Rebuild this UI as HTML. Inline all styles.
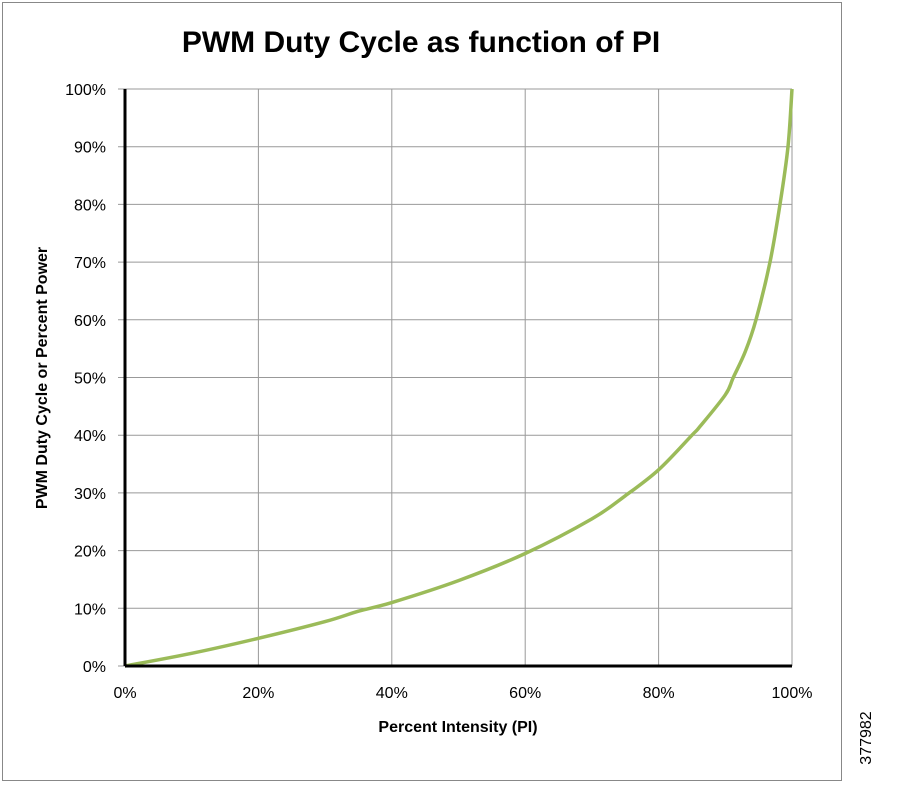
<!DOCTYPE html>
<html><head><meta charset="utf-8"><style>
body{margin:0;background:#fff;width:901px;height:792px;overflow:hidden;font-family:"Liberation Sans",sans-serif}
</style></head><body>
<svg width="901" height="792" xmlns="http://www.w3.org/2000/svg">
<rect x="2.5" y="2.5" width="839" height="778" fill="#fff" stroke="#888" stroke-width="1"/>
<text x="421" y="52" text-anchor="middle" font-size="30" font-weight="bold" fill="#000">PWM Duty Cycle as function of PI</text>
<g id="grid"></g>
<g id="ticks"></g>
<path id="curve" fill="none" stroke="#9bbb59" stroke-width="3.5"/>
<line x1="125" y1="89" x2="125" y2="666" stroke="#000" stroke-width="3"/>
<line x1="125" y1="666" x2="792" y2="666" stroke="#000" stroke-width="3"/>
<text x="458" y="732" text-anchor="middle" font-size="16" font-weight="bold">Percent Intensity (PI)</text>
<text transform="translate(47,378) rotate(-90)" text-anchor="middle" font-size="16" font-weight="bold">PWM Duty Cycle or Percent Power</text>
<text transform="translate(871,738) rotate(-90)" text-anchor="middle" font-size="16">377982</text>
</svg>
<script>
const xTicks=[0,20,40,60,80,100];
const yTicks=[0,10,20,30,40,50,60,70,80,90,100];
const piValues=[0,10,20,30,35,40,50,60,70,75,80,85,86.2,90,91.2,93,94.6,96.7,98.2,99.4,100];
const dutyValues=[0,2.2,4.8,7.7,9.5,11,14.8,19.5,25.5,29.5,34,40,41.5,47,50,54.5,60,70,80,90,100];
const X=v=>125+v/100*667, Y=v=>666-v/100*577;
const ns="http://www.w3.org/2000/svg";
const g=document.getElementById('grid'), t=document.getElementById('ticks');
xTicks.forEach(v=>{
 const l=document.createElementNS(ns,'line');
 
 
 l.setAttribute('x1',X(v));l.setAttribute('x2',X(v));l.setAttribute('y1',Y(100));l.setAttribute('y2',Y(0));
 l.setAttribute('stroke','#999');l.setAttribute('stroke-width','1');g.appendChild(l);
 const tx=document.createElementNS(ns,'text');
 
 
 tx.setAttribute('x',X(v));tx.setAttribute('y',698);tx.setAttribute('text-anchor','middle');tx.setAttribute('font-size','16');
 tx.textContent=v+'%';t.appendChild(tx);
});
yTicks.forEach(v=>{
 const l=document.createElementNS(ns,'line');
 
 
 l.setAttribute('x1',118);l.setAttribute('x2',X(100));l.setAttribute('y1',Y(v));l.setAttribute('y2',Y(v));
 l.setAttribute('stroke','#999');l.setAttribute('stroke-width','1');g.appendChild(l);
 const tx=document.createElementNS(ns,'text');
 
 
 tx.setAttribute('x',106);tx.setAttribute('y',Y(v)+6);tx.setAttribute('text-anchor','end');tx.setAttribute('font-size','16');
 tx.textContent=v+'%';t.appendChild(tx);
});
const pts=piValues.map((p,i)=>[X(p),Y(dutyValues[i])]);
let d='M'+pts[0][0]+','+pts[0][1];
for(let i=0;i<pts.length-1;i++){
 const p0=pts[Math.max(0,i-1)],p1=pts[i],p2=pts[i+1],p3=pts[Math.min(pts.length-1,i+2)];
 const c1=[p1[0]+(p2[0]-p0[0])/6,p1[1]+(p2[1]-p0[1])/6];
 const c2=[p2[0]-(p3[0]-p1[0])/6,p2[1]-(p3[1]-p1[1])/6];
 d+=' C'+c1+' '+c2+' '+p2;
}
document.getElementById('curve').setAttribute('d',d);
</script>
</body></html>
